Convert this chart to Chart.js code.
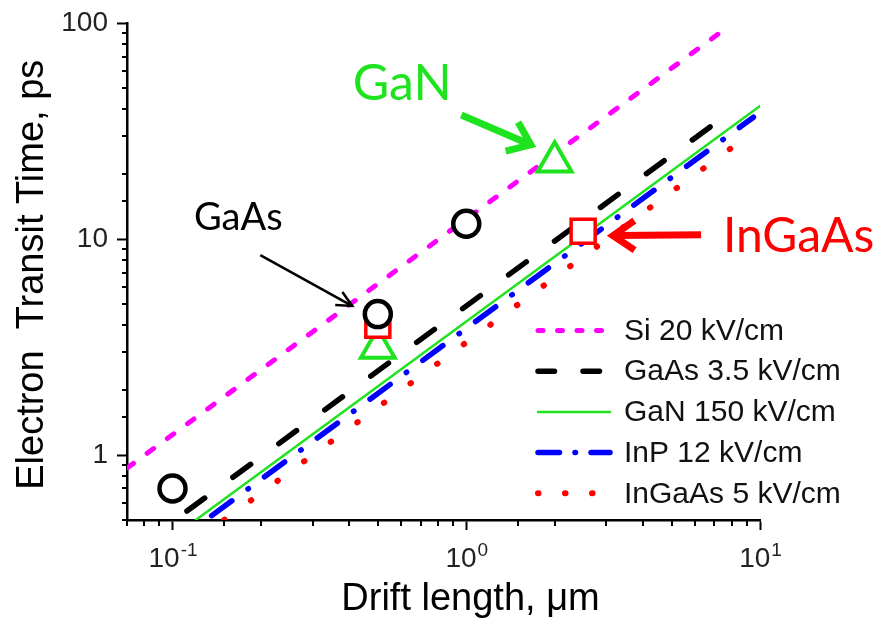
<!DOCTYPE html>
<html>
<head>
<meta charset="utf-8">
<script src="https://cdn.jsdelivr.net/npm/chart.js@4.4.0/dist/chart.umd.min.js"></script>
<style>
  html, body { margin: 0; padding: 0; background: #fff; }
  #wrap { width: 876px; height: 622px; }
</style>
</head>
<body>
<div id="wrap"><canvas id="transit-chart" width="876" height="622"></canvas></div>
<script>
// drift length (um) / transit time (ps), line end points
var siLength = [0.07, 7.9];
var siTime = [0.87, 98];
var gaasLength = [0.112, 8.4];
var gaasTime = [0.55, 41.2];
var ganLength = [0.12, 10];
var ganTime = [0.5, 41.5];
var inpLength = [0.136, 9.5];
var inpTime = [0.524, 36.8];
var ingaasLength = [0.15, 9.5];
var ingaasTime = [0.5, 31.5];

// measured points
var gaasPtLength = [0.1, 0.5, 1];
var gaasPtTime = [0.7, 4.5, 11.8];
var ingaasPtLength = [0.5, 2.5];
var ingaasPtTime = [4.0, 10.9];
var ganPtLength = [0.5, 2];
var ganPtTime = [3.13, 22.9];

var legendLabels = ['Si 20 kV/cm', 'GaAs 3.5 kV/cm', 'GaN 150 kV/cm', 'InP 12 kV/cm', 'InGaAs 5 kV/cm'];
var xTickValues = [0.1, 1, 10];
var xTickExp = ['-1', '0', '1'];
var yTickValues = [1, 10, 100];
var yTickText = ['1', '10', '100'];

var FONT = '"Liberation Sans", Arial, sans-serif';
var NOTE_FONT = 'Lato, "Open Sans", sans-serif';
var GREEN = '#1ee31e';

function toPoints(xs, ys) {
  return xs.map(function (x, i) {
    return { x: x, y: ys[i] };
  });
}

function isMajor(v) {
  var l = Math.log10(v);
  return Math.abs(l - Math.round(l)) < 1e-6;
}

function findTick(list, v) {
  for (var i = 0; i < list.length; i++) {
    if (Math.abs(list[i] - v) / list[i] < 1e-6) {
      return i;
    }
  }
  return -1;
}

// annotation texts and arrows, placed in data units
var notes = [
  { text: 'GaAs', color: '#000', size: 38, x: 0.1675, y: 11.0, align: 'center' },
  { text: 'GaN', color: GREEN, size: 50, x: 0.605, y: 44.2, align: 'center' },
  { text: 'InGaAs', color: '#ff0000', size: 48, x: 7.48, y: 8.71, align: 'left' }
];
var arrows = [
  { from: [0.199, 8.44], to: [0.409, 4.91], color: '#000', width: 2.5, head: 17, spread: 0.45 },
  { from: [0.962, 37.7], to: [1.66, 27.4], color: GREEN, width: 7, head: 26, spread: 0.65 },
  { from: [6.3, 10.5], to: [3.16, 10.4], color: '#ff0000', width: 7, head: 26, spread: 0.6 }
];

function drawArrow(ctx, x1, y1, x2, y2, a) {
  var ang = Math.atan2(y2 - y1, x2 - x1);
  ctx.strokeStyle = a.color;
  ctx.lineWidth = a.width;
  ctx.lineCap = 'butt';
  ctx.lineJoin = 'miter';
  ctx.setLineDash([]);
  ctx.beginPath();
  ctx.moveTo(x1, y1);
  ctx.lineTo(x2 - Math.cos(ang) * a.width * 0.5, y2 - Math.sin(ang) * a.width * 0.5);
  ctx.stroke();
  ctx.beginPath();
  ctx.moveTo(x2 - a.head * Math.cos(ang - a.spread), y2 - a.head * Math.sin(ang - a.spread));
  ctx.lineTo(x2, y2);
  ctx.lineTo(x2 - a.head * Math.cos(ang + a.spread), y2 - a.head * Math.sin(ang + a.spread));
  ctx.stroke();
}

var decorPlugin = {
  id: 'decor',
  afterDraw: function (chart) {
    var ctx = chart.ctx;
    var xs = chart.scales.x;
    var ys = chart.scales.y;
    var area = chart.chartArea;

    ctx.save();

    // minor ticks, shorter than the major ones
    ctx.strokeStyle = '#000';
    ctx.lineWidth = 2;
    ys.ticks.forEach(function (t) {
      if (isMajor(t.value)) {
        return;
      }
      var py = Math.round(ys.getPixelForValue(t.value));
      ctx.beginPath();
      ctx.moveTo(area.left - 5, py);
      ctx.lineTo(area.left, py);
      ctx.stroke();
    });
    xs.ticks.forEach(function (t) {
      if (isMajor(t.value)) {
        return;
      }
      var px = Math.round(xs.getPixelForValue(t.value));
      ctx.beginPath();
      ctx.moveTo(px, area.bottom);
      ctx.lineTo(px, area.bottom + 6);
      ctx.stroke();
    });

    // x tick labels 10^n
    ctx.fillStyle = '#222';
    ctx.textBaseline = 'alphabetic';
    ctx.textAlign = 'left';
    xTickValues.forEach(function (v, i) {
      var px = xs.getPixelForValue(v);
      ctx.font = '28px ' + FONT;
      var wb = ctx.measureText('10').width;
      ctx.font = '19px ' + FONT;
      var we = ctx.measureText(xTickExp[i]).width;
      var left = px - (wb + we) / 2;
      ctx.font = '28px ' + FONT;
      ctx.fillText('10', left, area.bottom + 47);
      ctx.font = '19px ' + FONT;
      ctx.fillText(xTickExp[i], left + wb + 1, area.bottom + 36);
    });

    // axis titles
    ctx.fillStyle = '#000';
    ctx.font = '38px ' + FONT;
    ctx.textAlign = 'center';
    ctx.fillText('Drift length, \u03bcm', (area.left + area.right) / 2 + 27, area.bottom + 90);

    ctx.save();
    ctx.translate(43, (area.top + area.bottom) / 2 + 3);
    ctx.rotate(-Math.PI / 2);
    ctx.font = '38px ' + FONT;
    ctx.fillText('Electron  Transit Time, ps', 0, 0);
    ctx.restore();

    // legend
    var lineSets = chart.data.datasets.filter(function (d) {
      return d.legendDash;
    });
    var lx = area.right - 222;
    var ly = area.top + 307;
    lineSets.forEach(function (d, i) {
      var y = ly + i * 40.7;
      ctx.strokeStyle = d.borderColor;
      ctx.lineWidth = d.borderWidth;
      ctx.lineCap = d.borderCapStyle || 'butt';
      ctx.setLineDash(d.legendDash);
      ctx.beginPath();
      ctx.moveTo(lx, y);
      ctx.lineTo(lx + 72, y);
      ctx.stroke();
      ctx.setLineDash([]);
      ctx.fillStyle = '#111';
      ctx.font = '30px ' + FONT;
      ctx.textAlign = 'left';
      ctx.textBaseline = 'middle';
      ctx.fillText(d.label, lx + 86, y + 1);
    });

    // annotations
    ctx.textBaseline = 'alphabetic';
    notes.forEach(function (n) {
      ctx.fillStyle = n.color;
      ctx.font = n.size + 'px ' + NOTE_FONT;
      ctx.textAlign = n.align;
      ctx.fillText(n.text, xs.getPixelForValue(n.x), ys.getPixelForValue(n.y));
    });
    arrows.forEach(function (a) {
      drawArrow(ctx,
        xs.getPixelForValue(a.from[0]), ys.getPixelForValue(a.from[1]),
        xs.getPixelForValue(a.to[0]), ys.getPixelForValue(a.to[1]), a);
    });

    ctx.restore();
  }
};

document.addEventListener('DOMContentLoaded', function () {
  var canvas = document.getElementById('transit-chart');
  Chart.defaults.font.family = FONT;

  function lineSet(label, xs, ys, color, width, dash, legendDash, order) {
    return {
      label: label,
      data: toPoints(xs, ys),
      showLine: true,
      borderColor: color,
      backgroundColor: color,
      borderWidth: width,
      borderDash: dash,
      borderCapStyle: 'round',
      legendDash: legendDash,
      pointRadius: 0,
      fill: false,
      tension: 0,
      order: order
    };
  }

  function markSet(label, xs, ys, color, style, radius, width, order) {
    return {
      label: label,
      data: toPoints(xs, ys),
      showLine: false,
      pointStyle: style,
      pointRadius: radius,
      pointBorderWidth: width,
      pointBorderColor: color,
      pointBackgroundColor: '#fff',
      borderColor: color,
      order: order
    };
  }

  new Chart(canvas, {
    type: 'scatter',
    data: {
      datasets: [
        lineSet(legendLabels[0], siLength, siTime, '#ff00ff', 5, [8, 17], [5, 14.5], 8),
        lineSet(legendLabels[1], gaasLength, gaasTime, '#000000', 5.5, [22, 35], [16.5, 28.5], 7),
        lineSet(legendLabels[2], ganLength, ganTime, GREEN, 2.5, [], [], 4),
        lineSet(legendLabels[3], inpLength, inpTime, '#0000ff', 5.5, [25, 20, 0.5, 20], [21.5, 15.5, 0.5, 15.5], 5),
        lineSet(legendLabels[4], ingaasLength, ingaasTime, '#ff0000', 6, [0.5, 32.5], [0.5, 26.5], 6),
        markSet('GaAs data', gaasPtLength, gaasPtTime, '#000000', 'circle', 13, 4.5, 1),
        markSet('InGaAs data', ingaasPtLength, ingaasPtTime, '#ff0000', 'rect', 17, 3.5, 2),
        markSet('GaN data', ganPtLength, ganPtTime, GREEN, 'triangle', 19.5, 4, 3)
      ]
    },
    options: {
      responsive: false,
      animation: false,
      layout: {
        padding: { left: 0, right: 116, top: 20, bottom: 0 }
      },
      plugins: {
        legend: { display: false },
        tooltip: { enabled: false }
      },
      scales: {
        x: {
          type: 'logarithmic',
          position: 'bottom',
          min: 0.07,
          max: 10,
          afterFit: function (scale) {
            scale.height = 102;
            scale.paddingLeft = 0;
            scale.paddingRight = 0;
          },
          border: { display: true, color: '#000', width: 2.5 },
          grid: {
            drawOnChartArea: false,
            drawTicks: true,
            tickLength: 10,
            tickWidth: 2,
            tickColor: function (c) {
              return c.tick && isMajor(c.tick.value) ? '#000' : 'rgba(0,0,0,0)';
            }
          },
          ticks: { display: false, autoSkip: false }
        },
        y: {
          type: 'logarithmic',
          position: 'left',
          min: 0.5,
          max: 100,
          afterFit: function (scale) {
            scale.width = 127;
            scale.paddingTop = 0;
            scale.paddingBottom = 0;
          },
          border: { display: true, color: '#000', width: 2.5 },
          grid: {
            drawOnChartArea: false,
            drawTicks: true,
            tickLength: 10,
            tickWidth: 2,
            tickColor: function (c) {
              return c.tick && isMajor(c.tick.value) ? '#000' : 'rgba(0,0,0,0)';
            }
          },
          ticks: {
            autoSkip: false,
            padding: 9,
            color: '#222',
            font: { size: 28 },
            callback: function (value) {
              var i = findTick(yTickValues, value);
              return i >= 0 ? yTickText[i] : '';
            }
          }
        }
      }
    },
    plugins: [decorPlugin]
  });
});
</script>
</body>
</html>
